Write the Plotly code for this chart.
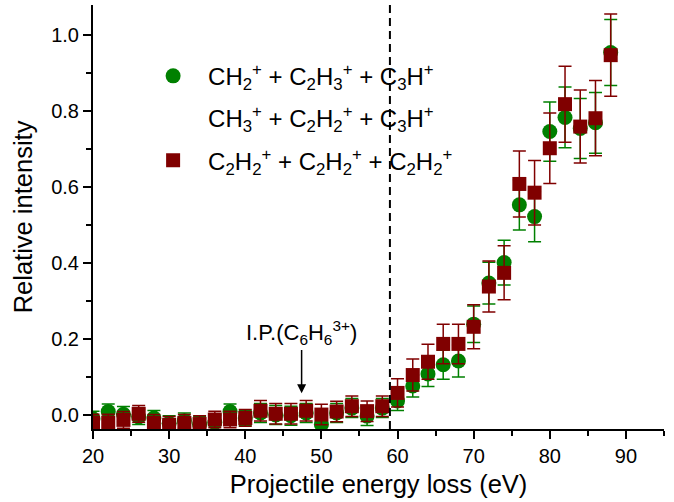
import plotly.graph_objects as go

# ---- data ----
energy_loss = [20, 22, 24, 26, 28, 30, 32, 34, 36, 38, 40, 42, 44, 46, 48, 50, 52, 54, 56, 58,
               60, 62, 64, 66, 68, 70, 72, 74, 76, 78, 80, 82, 84, 86, 88]

ch2_series = [-0.010, 0.009, 0.002, -0.005, -0.008, -0.022, -0.015, -0.025, -0.020, 0.009,
              -0.008, 0.005, 0.000, -0.002, 0.005, -0.025, 0.005, 0.018, -0.003, 0.018,
              0.037, 0.076, 0.108, 0.132, 0.142, 0.239, 0.347, 0.401, 0.553, 0.522,
              0.746, 0.783, 0.754, 0.769, 0.954]
ch2_err = [0.020] * 11 + [0.025] * 9 + [0.025, 0.029, 0.033, 0.038, 0.042, 0.048, 0.055, 0.059,
                                        0.066, 0.066, 0.078, 0.080, 0.079, 0.080, 0.087]

c2h2_series = [-0.020, -0.020, -0.013, 0.003, -0.021, -0.026, -0.021, -0.024, -0.012, -0.012,
               -0.008, 0.011, 0.003, 0.003, 0.011, 0.001, 0.009, 0.023, 0.010, 0.023,
               0.058, 0.105, 0.140, 0.187, 0.187, 0.232, 0.338, 0.374, 0.608, 0.585,
               0.702, 0.818, 0.759, 0.781, 0.947]
c2h2_err = [0.022] * 11 + [0.027] * 9 + [0.037, 0.042, 0.046, 0.052, 0.052, 0.058, 0.067, 0.071,
                                         0.087, 0.085, 0.093, 0.100, 0.096, 0.099, 0.108]

names = [
    "CH<sub>2</sub><sup>+</sup> + C<sub>2</sub>H<sub>3</sub><sup>+</sup> + C<sub>3</sub>H<sup>+</sup>",
    "CH<sub>3</sub><sup>+</sup> + C<sub>2</sub>H<sub>2</sub><sup>+</sup> + C<sub>3</sub>H<sup>+</sup>",
    "C<sub>2</sub>H<sub>2</sub><sup>+</sup> + C<sub>2</sub>H<sub>2</sub><sup>+</sup> + C<sub>2</sub>H<sub>2</sub><sup>+</sup>",
]

x_ticks = [20, 30, 40, 50, 60, 70, 80, 90]
y_ticks = [0.0, 0.2, 0.4, 0.6, 0.8, 1.0]
x_range = [20, 95]
y_range = [-0.037, 1.079]

threshold_ev = 59.0
ip_ev = 47.4
ip_tip = 0.057
ip_text_y = 0.216
ip_label = "I.P.(C<sub>6</sub>H<sub>6</sub><sup>3+</sup>)"

GREEN = "#008000"
RED = "#800000"
FONT = "Liberation Sans, Arial, sans-serif"

fig = go.Figure()

fig.add_trace(go.Scatter(
    x=energy_loss, y=ch2_series, mode="markers", name=names[0], legendgroup="a",
    marker=dict(symbol="circle", size=15, color=GREEN, line=dict(width=0)),
    error_y=dict(type="data", array=ch2_err, color=GREEN, thickness=1.5, width=6.5),
))
fig.add_trace(go.Scatter(
    x=[None], y=[None], mode="markers", name=names[1], legendgroup="b",
    marker=dict(symbol="circle", size=15, color="rgba(0,0,0,0)", line=dict(width=0)),
))
fig.add_trace(go.Scatter(
    x=energy_loss, y=c2h2_series, mode="markers", name=names[2], legendgroup="c",
    marker=dict(symbol="square", size=14, color=RED, line=dict(width=0)),
    error_y=dict(type="data", array=c2h2_err, color=RED, thickness=1.5, width=6.5),
))

fig.add_shape(type="line", xref="x", yref="paper", x0=threshold_ev, x1=threshold_ev,
              y0=0, y1=1, line=dict(color="black", width=2, dash="8px,5px"))

fig.add_annotation(x=ip_ev, y=ip_tip, ax=ip_ev, ay=ip_text_y, xref="x", yref="y",
                   axref="x", ayref="y", text=ip_label, showarrow=True,
                   arrowhead=2, arrowsize=1.2, arrowwidth=1.5, arrowcolor="black",
                   font=dict(family=FONT, size=22, color="black"))

axis_common = dict(showgrid=False, zeroline=False, showline=True, linecolor="black",
                   linewidth=2, tickcolor="black", tickwidth=1.5)

fig.update_layout(
    width=674, height=502,
    margin=dict(l=93, r=10, t=5, b=73),
    plot_bgcolor="white", paper_bgcolor="white",
    font=dict(family=FONT, color="black"),
    showlegend=True,
    legend=dict(x=0.079, y=0.885, xanchor="left", yanchor="top",
                font=dict(family=FONT, size=24, color="black"),
                bgcolor="rgba(0,0,0,0)", itemwidth=60, tracegroupgap=8),
    xaxis=dict(range=x_range, tickvals=x_ticks, ticks="outside", ticklen=8,
               minor=dict(dtick=5, ticks="outside", ticklen=5, tickcolor="black", tickwidth=1.5),
               tickfont=dict(size=20),
               title=dict(text="Projectile energy loss (eV)", font=dict(size=25.5), standoff=9),
               **axis_common),
    yaxis=dict(range=y_range, tickvals=y_ticks, tickformat=".1f", ticks="outside", ticklen=8,
               minor=dict(dtick=0.1, tick0=0, ticks="outside", ticklen=5, tickcolor="black", tickwidth=1.5),
               tickfont=dict(size=20),
               title=dict(text="Relative intensity", font=dict(size=25.5), standoff=11),
               **axis_common),
    xaxis2=dict(range=x_range, overlaying="x", side="top", anchor="y", tickvals=x_ticks,
                ticks="inside", ticklen=13, showticklabels=False,
                minor=dict(dtick=5, ticks="inside", ticklen=8, tickcolor="black", tickwidth=1.5),
                **axis_common),
    yaxis2=dict(range=y_range, overlaying="y", side="right", anchor="x", tickvals=y_ticks,
                ticks="inside", ticklen=14, showticklabels=False,
                minor=dict(dtick=0.1, tick0=0, ticks="inside", ticklen=9, tickcolor="black", tickwidth=1.5),
                **axis_common),
)

fig.write_html("out.html")
